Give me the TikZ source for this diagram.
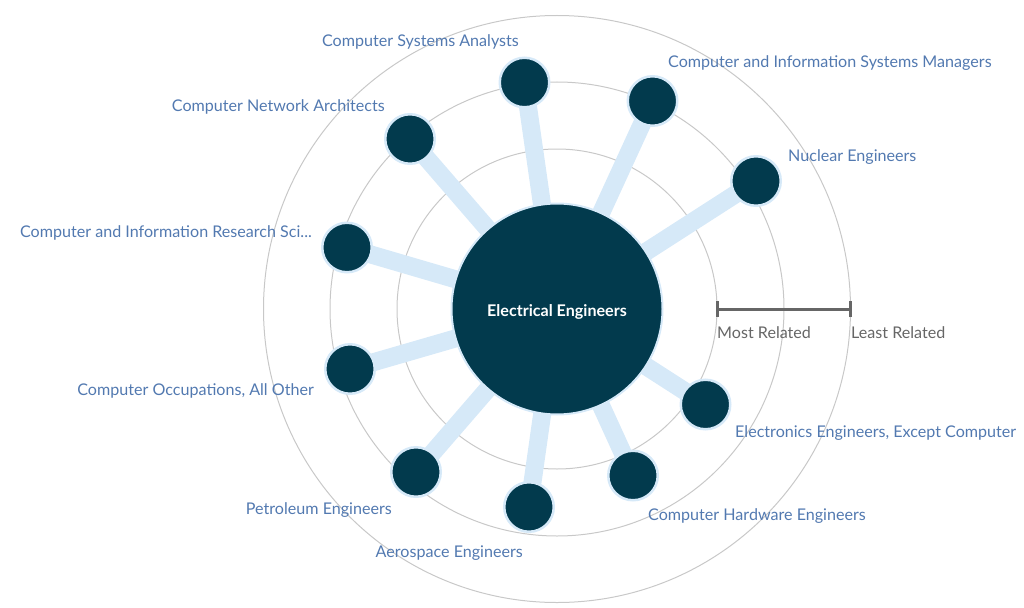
\documentclass[tikz,border=0pt]{standalone}
\usepackage{fontspec}
\setmainfont{Lato}
\usetikzlibrary{backgrounds}
\definecolor{darknode}{HTML}{023A4D}
\definecolor{halo}{HTML}{D6E9F8}
\definecolor{lbl}{HTML}{5279B0}
\definecolor{ringc}{HTML}{C8C8C8}
\definecolor{barc}{HTML}{666666}
\begin{document}
\begin{tikzpicture}[x=1pt,y=-1pt,
 hub/.style={circle,fill=darknode,draw=halo,line width=2pt,minimum size=211pt,inner sep=0pt,text=white,font=\bfseries\fontsize{16.1}{18}\selectfont},
 leaf/.style={circle,fill=darknode,draw=halo,line width=2.5pt,minimum size=49.5pt,inner sep=0pt},
 spoke/.style={halo,line width=18pt},
 ringline/.style={ringc,line width=1pt},
 lab/.style={text=lbl,font=\fontsize{16.1}{19}\selectfont,inner sep=0pt},
 scalelab/.style={text=barc,font=\fontsize{16.1}{19}\selectfont,inner sep=0pt},
 barline/.style={barc,line width=3pt}]
\useasboundingbox (0,0) rectangle (1024,607);

\node[hub] (hub) at (557,309) {\raisebox{-3pt}[\height][\depth]{Electrical Engineers}};

\node[leaf] (n1) at (524.5,82.5) {};
\node[leaf] (n2) at (652.5,101) {};
\node[leaf] (n3) at (756,181) {};
\node[leaf] (n4) at (410,139) {};
\node[leaf] (n5) at (347,247.5) {};
\node[leaf] (n6) at (350,369) {};
\node[leaf] (n7) at (416,472) {};
\node[leaf] (n8) at (529,507) {};
\node[leaf] (n9) at (633,475.5) {};
\node[leaf] (n10) at (705.5,404.5) {};

\begin{scope}[on background layer]
  \draw[ringline] (hub.center) circle[radius=160];
  \draw[ringline] (hub.center) circle[radius=227];
  \draw[ringline] (hub.center) circle[radius=293.5];
  \foreach \n in {n1,n2,n3,n4,n5,n6,n7,n8,n9,n10}
    \draw[spoke] (hub.center) -- (\n.center);
\end{scope}

\node[lab,anchor=base east] (l1) at (519,47) {Computer Systems Analysts};
\node[lab,anchor=base west] (l2) at (668,67.5) {Computer and Information Systems Managers};
\node[lab,anchor=base west] (l3) at (788,161.5) {Nuclear Engineers};
\node[lab,anchor=base east] (l4) at (385,111) {Computer Network Architects};
\node[lab,anchor=base east] (l5) at (312,237.5) {Computer and Information Research Sci...};
\node[lab,anchor=base east] (l6) at (314,395) {Computer Occupations, All Other};
\node[lab,anchor=base east] (l7) at (392,514) {Petroleum Engineers};
\node[lab,anchor=base east] (l8) at (523,557) {Aerospace Engineers};
\node[lab,anchor=base west] (l9) at (648,520) {Computer Hardware Engineers};
\node[lab,anchor=base west] (l10) at (735,437) {Electronics Engineers, Except Computer};

\coordinate (sbL) at (717.5,309);
\coordinate (sbR) at (850.5,309);
\draw[barline] (sbL) -- (sbR);
\draw[barline] ([yshift=-8pt]sbL) -- ([yshift=8pt]sbL);
\draw[barline] ([yshift=-8pt]sbR) -- ([yshift=8pt]sbR);
\node[scalelab,anchor=base west] (most) at (717,338) {Most Related};
\node[scalelab,anchor=base west] (least) at (851,338) {Least Related};
\end{tikzpicture}
\end{document}
